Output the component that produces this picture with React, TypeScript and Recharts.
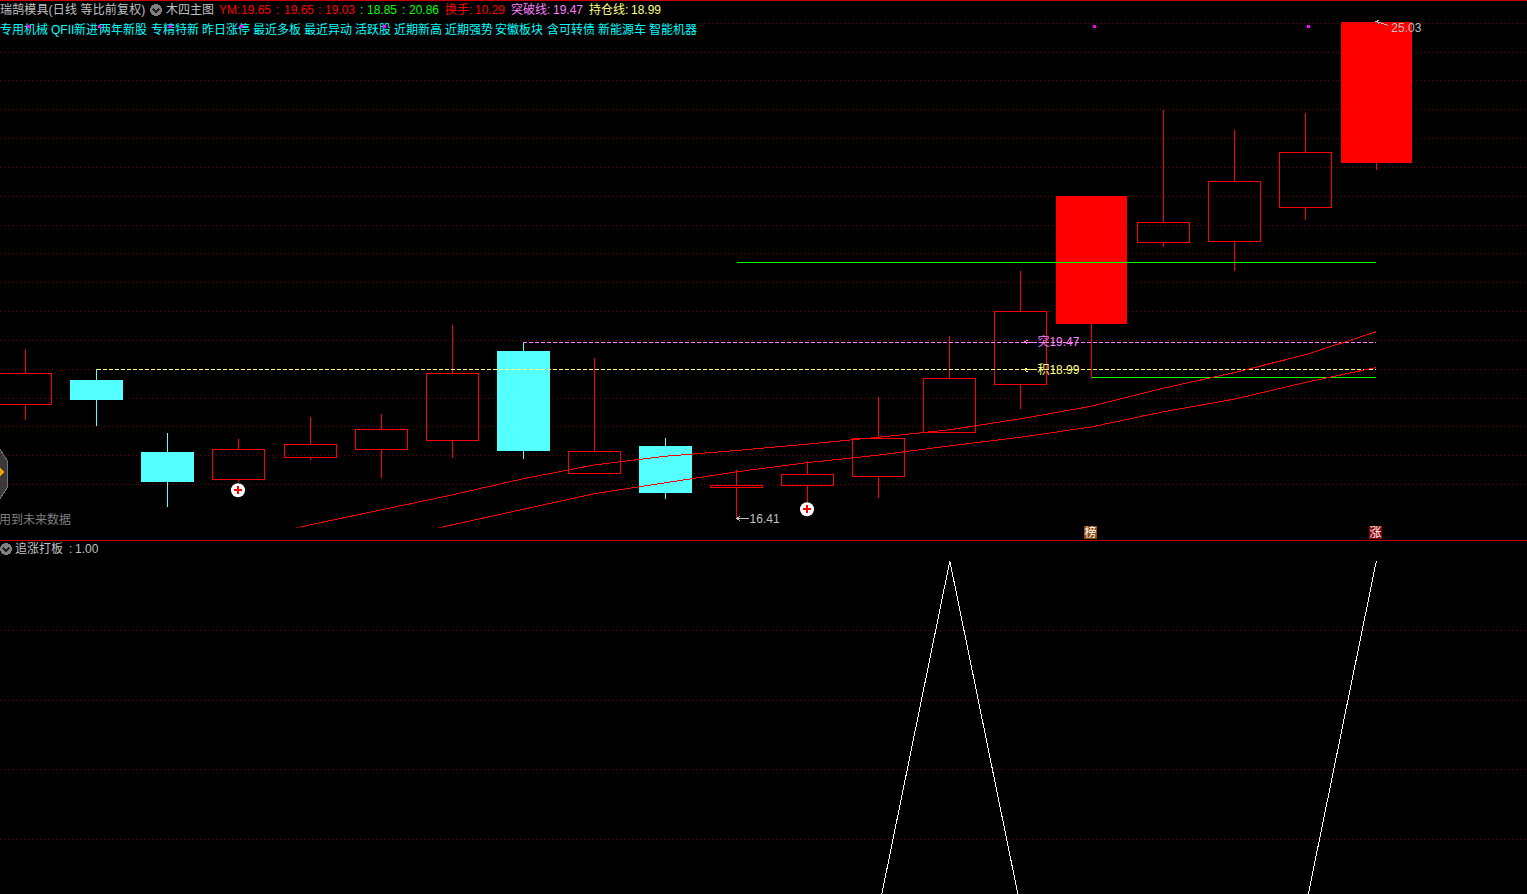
import { ComposedChart, Bar, Line, XAxis, YAxis, CartesianGrid, ReferenceLine, ReferenceDot } from 'recharts';

// daily candles, left to right
const days = [0, 1, 2, 3, 4, 5, 6, 7, 8, 9, 10, 11, 12, 13, 14, 15, 16, 17, 18, 19];
const opens = [18.39, 18.81, 17.56, 17.09, 17.47, 17.61, 17.77, 19.32, 17.2, 17.67, 16.95, 16.99, 17.14, 17.91, 18.74, 19.79, 21.2, 21.22, 21.81, 22.58];
const closes = [18.93, 18.47, 17.04, 17.61, 17.7, 17.96, 18.93, 17.58, 17.58, 16.85, 16.99, 17.18, 17.8, 18.85, 20.01, 22.0, 21.55, 22.26, 22.77, 25.03];
const highs = [19.35, 19.0, 17.89, 17.79, 18.17, 18.22, 19.77, 19.47, 19.19, 17.81, 17.26, 17.4, 18.52, 19.58, 20.7, 22.0, 23.5, 23.15, 23.44, 25.03];
const lows = [18.12, 18.01, 16.61, 17.04, 17.43, 17.11, 17.46, 17.44, 17.2, 16.75, 16.41, 16.7, 16.77, 17.91, 18.31, 18.83, 21.12, 20.7, 21.58, 22.46];
const maFast = [null, null, null, 16.02, 16.3, 16.56, 16.82, 17.1, 17.34, 17.49, 17.59, 17.7, 17.82, 17.95, 18.14, 18.36, 18.67, 18.94, 19.25, 19.65];
const maSlow = [null, null, null, null, null, 16.02, 16.3, 16.57, 16.84, 17.03, 17.22, 17.38, 17.51, 17.67, 17.82, 18.0, 18.26, 18.48, 18.77, 19.03];
const signal = [0, 0, 0, 0, 0, 0, 0, 0, 0, 0, 0, 0, 0, 1, 0, 0, 0, 0, 0, 1];

const limitUpDays = [15, 19];
const flagDays = [0, 1, 2, 3, 5, 15, 18];
const gridPrices = [24.5, 24, 23.5, 23, 22.5, 22, 21.5, 21, 20.5, 20, 19.5, 19, 18.5, 18, 17.5, 17];
const gridSignal = [0.2, 0.4, 0.6, 0.8];

const rows = days.map((day) => ({
  day,
  open: opens[day],
  close: closes[day],
  high: highs[day],
  low: lows[day],
  maFast: maFast[day],
  maSlow: maSlow[day],
  signal: signal[day],
}));

const RED = '#ff0000';
const CYAN = '#54ffff';
const GRID = '#800000';
const GRID_DASH = '0.6 3.4';
const X_DOMAIN: [number, number] = [-0.36182, 21.1195];
const FONT = '"Liberation Sans", "Noto Sans CJK SC", sans-serif';

function Candle(props: any) {
  const { x, y, width, height, payload } = props;
  const { open, close, high, low, day } = payload;
  const top = Math.min(y, y + height);
  const perUnit = Math.abs(height) / (high - low);
  const yOf = (p: number) => top + (high - p) * perUnit;
  const cx = Math.floor(x + width / 2) + 0.5;
  const bodyTop = yOf(Math.max(open, close));
  const bodyBottom = yOf(Math.min(open, close));
  const wide = limitUpDays.includes(day);
  const down = close < open;
  const color = down ? CYAN : RED;
  const half = wide ? 35.5 : 26.5;
  const boxTop = Math.round(bodyTop) + 0.5;
  const boxBottom = Math.round(bodyBottom) + 0.5;
  return (
    <g>
      <line x1={cx} x2={cx} y1={top} y2={bodyTop} stroke={color} />
      <line x1={cx} x2={cx} y1={bodyBottom} y2={yOf(low)} stroke={color} />
      {down || wide ? (
        <rect x={cx - half} y={bodyTop} width={half * 2} height={bodyBottom - bodyTop} fill={color} />
      ) : (
        <rect x={cx - 26} y={boxTop} width={52} height={boxBottom - boxTop} fill="none" stroke={color} />
      )}
    </g>
  );
}

function PlusMark({ cx, cy }: any) {
  const x = Math.floor(cx);
  return (
    <g>
      <circle cx={x} cy={cy} r={7} fill="#fff" style={{ shapeRendering: 'auto' }} />
      <rect x={x - 4} y={cy - 1} width={8} height={2} fill={RED} />
      <rect x={x - 1} y={cy - 4} width={2} height={8} fill={RED} />
    </g>
  );
}

function Badge({ cx, cy, text, bg }: any) {
  const x = Math.floor(cx);
  return (
    <g>
      <rect x={x - 7} y={cy - 6.5} width={13} height={13} fill={bg} />
      <text x={x - 0.5} y={cy + 4.5} textAnchor="middle" fontSize={12} fontFamily={FONT} fill="#fff">{text}</text>
    </g>
  );
}

function PriceTag({ cx, cy, text, color, gap = 0, drop = 0, textDrop = 4, textGap = 13 }: any) {
  const x = cx + gap;
  return (
    <g stroke={color} fill="none">
      <path d={`M${x + 12} ${cy + drop}L${x} ${cy}M${x + 3} ${cy - 2}L${x} ${cy}L${x + 3} ${cy + 2}`} />
      <text x={x + textGap} y={cy + textDrop} stroke="none" fill={color} fontSize={12} fontFamily={FONT}>{text}</text>
    </g>
  );
}

function Chevron({ x, y }: { x: number; y: number }) {
  return (
    <svg style={{ position: 'absolute', left: x - 7, top: y - 7 }} width={14} height={14}>
      <circle cx={7} cy={7} r={6} fill="#808080" />
      <path d="M4 6L7 9L10 6" fill="none" stroke="#222" strokeWidth={1.5} />
    </svg>
  );
}

function Label({ x, y, color = '#c0c0c0', spacing = 0, children }: any) {
  return (
    <span style={{ position: 'absolute', left: x, top: y - 8, height: 16, lineHeight: '16px', fontSize: 12, color, letterSpacing: spacing, fontFamily: FONT, whiteSpace: 'nowrap' }}>
      {children}
    </span>
  );
}

const tags: Array<[string, number]> = [
  ['专用机械', 0], ['QFII', 51], ['新进', 74], ['两年新股', 99], ['专精特新', 151], ['昨日涨停', 202], ['最近多板', 253], ['最近异动', 304],
  ['活跃股', 355], ['近期新高', 394], ['近期强势', 445], ['安徽板块', 495], ['含可转债', 547], ['新能源车', 598], ['智能机器', 649],
];

const quotes: Array<[string, number, string]> = [
  ['YM:', 219, RED], ['19.65', 241, RED], [':', 276, RED], ['19.65', 284, RED], [':', 318, RED], ['19.03', 325, RED],
  [':', 360, '#00ff00'], ['18.85', 367, '#00ff00'], [':', 402, '#00ff00'], ['20.86', 409, '#00ff00'],
  ['换手:', 445, RED], ['10.29', 475, RED], ['突破线:', 511, '#ff80ff'], ['19.47', 553, '#ff80ff'], ['持仓线:', 589, '#ffff80'], ['18.99', 631, '#ffff80'],
];

export default function App() {
  return (
    <div style={{ position: 'absolute', left: 0, top: 0, width: 1527, height: 894, background: '#000', overflow: 'hidden', shapeRendering: 'crispEdges' }}>
      <Label x={0} y={10} spacing={0.15}>瑞鹄模具(日线 等比前复权)</Label>
      <Chevron x={156} y={10} />
      <Label x={166} y={10}>木四主图</Label>
      {quotes.map(([text, x, color], i) => <Label key={i} x={x} y={10} color={color}>{text}</Label>)}
      {tags.map(([text, x]) => <Label key={text} x={x} y={30} color="#00ffff">{text}</Label>)}
      <Label x={-1} y={520} color="#808080">用到未来数据</Label>
      <svg style={{ position: 'absolute', left: 0, top: 440 }} width={10} height={70}>
        <polygon points="-1,8 7,20 7,48 -1,60" fill="#3a3a3a" stroke="#707070" />
        <polygon points="0,27 4,32 0,37" fill="#f0a000" />
      </svg>

      <div style={{ position: 'absolute', left: 0, top: 0 }}>
        <ComposedChart width={1527} height={540} data={rows} margin={{ top: 0, right: 0, left: 0, bottom: 12.5 }}>
          <XAxis dataKey="day" type="number" domain={X_DOMAIN} ticks={days} hide allowDataOverflow />
          <YAxis type="number" domain={[16.254, 25.404]} hide allowDataOverflow />
          <CartesianGrid vertical={false} horizontalValues={gridPrices} stroke={GRID} strokeWidth={0.9} strokeDasharray={GRID_DASH} strokeDashoffset={-0.2} />
          <ReferenceLine segment={[{ x: 9.44, y: 25 }, { x: X_DOMAIN[1], y: 25 }]} stroke={GRID} strokeWidth={0.9} strokeDasharray={GRID_DASH} strokeDashoffset={-0.2} />
          <ReferenceLine segment={[{ x: 0.63, y: 16.5 }, { x: X_DOMAIN[1], y: 16.5 }]} stroke={GRID} strokeWidth={0.9} strokeDasharray={GRID_DASH} strokeDashoffset={-0.2} />
          <ReferenceLine segment={[{ x: 1, y: 18.99 }, { x: 19, y: 18.99 }]} stroke="#ffff80" strokeDasharray="4 2" />
          <ReferenceLine segment={[{ x: 7, y: 19.47 }, { x: 19, y: 19.47 }]} stroke="#ff80ff" strokeDasharray="4 2" />
          <ReferenceLine segment={[{ x: 10, y: 20.85 }, { x: 19, y: 20.85 }]} stroke="#00ff00" />
          <ReferenceLine segment={[{ x: 15, y: 18.86 }, { x: 19, y: 18.86 }]} stroke="#00ff00" />
          <Bar dataKey={(d: any) => [d.low, d.high]} barSize={53} shape={<Candle />} isAnimationActive={false} />
          <Line dataKey="maFast" stroke={RED} dot={false} isAnimationActive={false} />
          <Line dataKey="maSlow" stroke={RED} dot={false} isAnimationActive={false} />
          {flagDays.map((d) => (
            <ReferenceDot key={d} x={d} y={24.94} ifOverflow="visible" shape={(p: any) => <rect x={Math.floor(p.cx) + 2} y={p.cy - 1.5} width={3} height={3} fill="#ff00ff" />} />
          ))}
          <ReferenceDot x={3} y={16.9} ifOverflow="visible" shape={<PlusMark />} />
          <ReferenceDot x={11} y={16.57} ifOverflow="visible" shape={<PlusMark />} />
          <ReferenceDot x={15} y={16.167} ifOverflow="visible" shape={<Badge text="榜" bg="#8a4a08" />} />
          <ReferenceDot x={19} y={16.167} ifOverflow="visible" shape={<Badge text="涨" bg="#8b0000" />} />
          <ReferenceDot x={10} y={16.41} ifOverflow="visible" shape={<PriceTag text="16.41" color="#c0c0c0" />} />
          <ReferenceDot x={19} y={25.03} ifOverflow="visible" shape={<PriceTag text="25.03" color="#c0c0c0" drop={4} textDrop={10} textGap={15} />} />
          <ReferenceDot x={14} y={19.47} ifOverflow="visible" shape={<PriceTag text="突19.47" color="#ff80ff" gap={3.5} />} />
          <ReferenceDot x={14} y={18.99} ifOverflow="visible" shape={<PriceTag text="积18.99" color="#ffff80" gap={3.5} />} />
        </ComposedChart>
      </div>

      <div style={{ position: 'absolute', left: 0, top: 0, width: 1527, height: 1, background: '#c80000' }} />
      <div style={{ position: 'absolute', left: 0, top: 540, width: 1527, height: 1, background: '#c80000' }} />

      <Chevron x={6} y={549} />
      <Label x={15} y={549}>追涨打板</Label>
      <Label x={69} y={549}>:</Label>
      <Label x={75} y={549}>1.00</Label>
      <div style={{ position: 'absolute', left: 0, top: 541 }}>
        <ComposedChart width={1527} height={353} data={rows} margin={{ top: 0, right: 0, left: 0, bottom: 0 }}>
          <XAxis dataKey="day" type="number" domain={X_DOMAIN} ticks={days} hide allowDataOverflow />
          <YAxis type="number" domain={[0.0431, 1.0575]} hide allowDataOverflow />
          <CartesianGrid vertical={false} horizontalValues={gridSignal} stroke={GRID} strokeWidth={0.9} strokeDasharray={GRID_DASH} strokeDashoffset={-0.2} />
          <Line dataKey="signal" stroke="#fff" dot={false} isAnimationActive={false} />
        </ComposedChart>
      </div>
    </div>
  );
}
